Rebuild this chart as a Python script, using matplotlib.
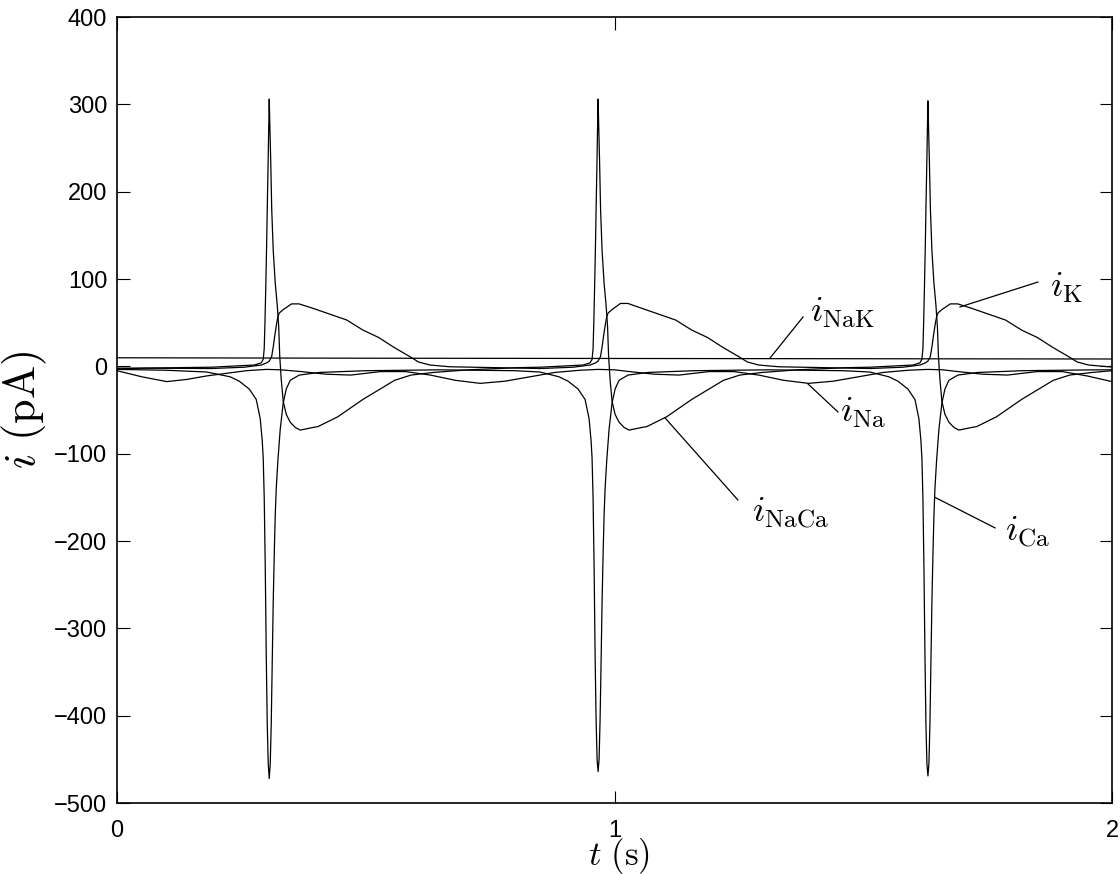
import numpy as np
import matplotlib
matplotlib.use("Agg")
import matplotlib.pyplot as plt

OUTPUT_FILE = "out.png"

FIG_W, FIG_H, DPI = 11.2, 8.74, 100

X_TICKS = [0, 1, 2]
Y_TICKS = [-500, -400, -300, -200, -100, 0, 100, 200, 300, 400]

###############################################################################
# currents (t in s, i in pA)

t_nak = [0.0, 0.5, 1.0, 1.5, 2.0]
i_nak = [9.8, 9.3, 9.0, 8.7, 8.4]

t_k = [0.0, 0.19, 0.256, 0.290, 0.301, 0.306, 0.3108, 0.314, 0.3171, 0.3209, 0.3235, 0.3261,
       0.3341, 0.351, 0.366, 0.394, 0.462, 0.494, 0.526, 0.556, 0.589, 0.606, 0.629, 0.669, 0.77,
       0.851, 0.917, 0.951, 0.962, 0.967, 0.9718, 0.975, 0.9781, 0.9819, 0.9845, 0.9871,
       0.9951, 1.012, 1.027, 1.055, 1.123, 1.155, 1.187, 1.217, 1.25, 1.267, 1.29, 1.33, 1.431,
       1.514, 1.58, 1.614, 1.625, 1.630, 1.6348, 1.638, 1.6411, 1.6449, 1.6475, 1.6501,
       1.6581, 1.675, 1.69, 1.718, 1.786, 1.818, 1.85, 1.88, 1.913, 1.93, 1.953, 1.993, 2.0]
i_k = [-2.0, -2.5, -1.0, 1.5, 4.0, 6.0, 11.0, 22.0, 35.0, 49.0, 57.0, 61.0,
       65.0, 71.5, 71.5, 66.4, 53.0, 41.6, 33.0, 22.0, 11.0, 5.0, 1.5, -0.5, -1.6,
       -2.5, -1.0, 1.5, 4.0, 6.0, 11.0, 22.0, 35.0, 49.0, 57.0, 61.0,
       65.0, 72.0, 72.0, 66.4, 53.0, 41.6, 33.0, 22.0, 11.0, 5.0, 1.5, -0.5, -1.6,
       -2.5, -1.0, 1.5, 4.0, 6.0, 11.0, 22.0, 35.0, 49.0, 57.0, 61.0,
       65.0, 71.5, 71.5, 66.4, 53.0, 41.6, 33.0, 22.0, 11.0, 5.0, 1.5, -0.5, -0.7]

t_na = [0.0, 0.05, 0.1, 0.14, 0.18, 0.22, 0.26, 0.3, 0.33, 0.37, 0.42, 0.47, 0.53,
        0.58, 0.63, 0.68, 0.73, 0.78, 0.83, 0.88, 0.93, 0.967, 1.0, 1.03, 1.08, 1.13,
        1.19, 1.24, 1.29, 1.34, 1.39, 1.44, 1.49, 1.54, 1.59, 1.63, 1.66, 1.69, 1.74,
        1.79, 1.85, 1.90, 1.95, 2.0]
i_na = [-5.0, -12.0, -17.5, -15.0, -11.0, -8.0, -5.0, -3.5, -4.0, -6.0, -9.0, -10.0, -6.0,
        -6.0, -10.0, -16.0, -19.5, -17.0, -12.0, -7.0, -4.5, -3.5, -4.0, -6.0, -9.0, -10.0,
        -6.0, -6.0, -10.0, -16.0, -19.5, -17.0, -12.0, -7.0, -4.5, -3.5, -4.0, -6.0, -9.0,
        -10.0, -6.0, -6.0, -11.0, -17.5]

t_naca = [0.0, 0.056, 0.19, 0.276, 0.2899, 0.2939, 0.2959, 0.2974, 0.2990, 0.3008, 0.3020,
          0.3035, 0.3050, 0.3060, 0.3075, 0.3090, 0.3110, 0.3140, 0.3181, 0.3221, 0.3251,
          0.3271, 0.3301, 0.3341, 0.3402, 0.3482, 0.3583, 0.3683, 0.394, 0.404, 0.444, 0.494,
          0.558, 0.591, 0.636, 0.706, 0.806,
          0.851, 0.937, 0.9509, 0.9549, 0.9569, 0.9584, 0.9600, 0.9618, 0.9630,
          0.9645, 0.9660, 0.9670, 0.9685, 0.9700, 0.9720, 0.9750, 0.9791, 0.9831, 0.9861,
          0.9881, 0.9911, 0.9951, 1.0012, 1.0092, 1.0193, 1.0293, 1.055, 1.065, 1.105, 1.155,
          1.219, 1.252, 1.297, 1.367, 1.467,
          1.514, 1.600, 1.6139, 1.6179, 1.6199, 1.6214, 1.6230, 1.6248, 1.6260,
          1.6275, 1.6290, 1.6300, 1.6315, 1.6330, 1.6350, 1.6380, 1.6421, 1.6461, 1.6491,
          1.6511, 1.6541, 1.6581, 1.6642, 1.6722, 1.6823, 1.6923, 1.718, 1.728, 1.768, 1.818,
          1.882, 1.915, 1.96, 2.0]
i_naca = [-3.0, -2.0, -1.0, 1.5, 4.0, 8.0, 20.0, 50.0, 90.0, 140.0, 180.0,
          225.0, 275.0, 306.0, 270.0, 235.0, 180.0, 133.0, 95.0, 70.0, 45.0,
          12.0, -15.0, -40.0, -55.0, -64.0, -70.0, -73.0, -70.0, -69.0, -57.7, -38.0,
          -16.0, -10.0, -7.0, -4.0, -1.5,
          -1.0, 1.5, 4.0, 8.0, 20.0, 50.0, 90.0, 140.0, 180.0,
          225.0, 275.0, 306.0, 270.0, 235.0, 180.0, 133.0, 95.0, 70.0, 45.0,
          12.0, -15.0, -40.0, -55.0, -64.0, -70.0, -73.0, -70.0, -69.0, -57.7, -38.0,
          -16.0, -10.0, -7.0, -4.0, -1.5,
          -1.0, 1.5, 4.0, 8.0, 20.0, 50.0, 90.0, 140.0, 180.0,
          225.0, 273.0, 304.0, 268.0, 233.0, 180.0, 133.0, 95.0, 70.0, 45.0,
          12.0, -15.0, -40.0, -55.0, -64.0, -70.0, -73.0, -70.0, -69.0, -57.7, -38.0,
          -16.0, -10.0, -7.0, -5.0]

t_ca = [0.0, 0.1, 0.18, 0.2276, 0.2457, 0.2658, 0.2799, 0.2879, 0.2919, 0.2939, 0.2959,
        0.2980, 0.3000, 0.3020, 0.3040, 0.3060, 0.3080, 0.3100, 0.3120, 0.3140, 0.3161,
        0.3181, 0.3201, 0.3235, 0.3281, 0.3341, 0.3402, 0.3482, 0.3663, 0.4065,
        0.5, 0.65, 0.80, 0.85,
        0.8886, 0.9067, 0.9268, 0.9409, 0.9489, 0.9529, 0.9549, 0.9569,
        0.9590, 0.9610, 0.9630, 0.9650, 0.9670, 0.9690, 0.9710, 0.9730, 0.9750, 0.9771,
        0.9791, 0.9811, 0.9845, 0.9891, 0.9951, 1.0012, 1.0092, 1.0273, 1.0675,
        1.16, 1.31, 1.46, 1.513,
        1.5516, 1.5697, 1.5898, 1.6039, 1.6119, 1.6159, 1.6179, 1.6199,
        1.6220, 1.6240, 1.6260, 1.6280, 1.6300, 1.6320, 1.6340, 1.6360, 1.6380, 1.6401,
        1.6421, 1.6441, 1.6475, 1.6521, 1.6581, 1.6642, 1.6722, 1.6903, 1.7305,
        1.82, 1.97, 2.0]
i_ca = [-3.5, -4.5, -6.5, -12.0, -17.0, -26.0, -38.0, -60.0, -85.0, -105.0, -150.0,
        -230.0, -330.0, -410.0, -455.0, -472.0, -455.0, -410.0, -340.0, -270.0, -215.0,
        -170.0, -140.0, -107.0, -72.0, -42.0, -26.0, -16.0, -10.0, -7.0,
        -5.0, -4.0, -5.0, -6.5,
        -12.0, -17.0, -26.0, -38.0, -60.0, -85.0, -105.0, -150.0,
        -230.0, -330.0, -405.0, -450.0, -464.0, -450.0, -405.0, -340.0, -270.0, -215.0,
        -170.0, -140.0, -107.0, -72.0, -42.0, -26.0, -16.0, -10.0, -7.0,
        -5.0, -4.0, -5.0, -6.5,
        -12.0, -17.0, -26.0, -38.0, -60.0, -85.0, -105.0, -150.0,
        -230.0, -330.0, -410.0, -455.0, -469.0, -455.0, -410.0, -340.0, -270.0, -215.0,
        -170.0, -140.0, -107.0, -72.0, -42.0, -26.0, -16.0, -10.0, -7.0,
        -5.0, -4.0, -4.0]

# label text position and the point its leader line touches
LABELS = {
    r"$i_{\rm NaK}$":  ((1.457, 62.0),   (1.379, 56.5),  (1.3126, 9.5)),
    r"$i_{\rm Na}$":   ((1.4995, -52.6), (1.449, -52.2), (1.389, -20.2)),
    r"$i_{\rm NaCa}$": ((1.3528, -169.0), (1.248, -153.0), (1.1015, -59.0)),
    r"$i_{\rm Ca}$":   ((1.830, -190.0), (1.765, -185.0), (1.644, -150.0)),
    r"$i_{\rm K}$":    ((1.9095, 90.7),  (1.851, 96.5),  (1.6945, 68.0)),
}

###############################################################################

def style_axes(ax):
    ''' MATLAB-like box: ticks inside on all four sides '''
    ax.set_xlim(0, 2)
    ax.set_ylim(-500, 400)
    ax.set_xticks(X_TICKS)
    ax.set_yticks(Y_TICKS)
    ax.tick_params(direction="in", length=9, width=0.8, top=True, right=True,
                   labelsize=17)
    ax.tick_params(axis="x", pad=12)
    ax.tick_params(axis="y", pad=7)
    for sp in ax.spines.values():
        sp.set_linewidth(1.2)
    ax.set_xlabel(r"$t\ (\mathrm{s})$", fontsize=25)
    ax.set_ylabel(r"$i\ (\mathrm{pA})$", fontsize=32)
    ax.xaxis.set_label_coords(0.505, -0.042)
    ax.yaxis.set_label_coords(-0.068, 0.5)

def draw(ax):
    ''' Plots the five currents and their labels '''
    for t, i in [(t_nak, i_nak), (t_k, i_k), (t_na, i_na), (t_naca, i_naca), (t_ca, i_ca)]:
        ax.plot(t, i, color="black", lw=0.9)
    for text, (pos, start, end) in LABELS.items():
        ax.text(pos[0], pos[1], text, fontsize=26, ha="center", va="center")
        ax.plot([start[0], end[0]], [start[1], end[1]], color="black", lw=0.9)

###############################################################################

if __name__ == "__main__":
    plt.rcParams["font.family"] = ["Liberation Sans", "DejaVu Sans"]
    plt.rcParams["mathtext.fontset"] = "cm"

    fig = plt.figure(figsize=(FIG_W, FIG_H), dpi=DPI)
    ax = fig.add_axes([117 / 1120, 71 / 874, 995 / 1120, 786 / 874])
    draw(ax)
    style_axes(ax)
    fig.savefig(OUTPUT_FILE, dpi=DPI)
